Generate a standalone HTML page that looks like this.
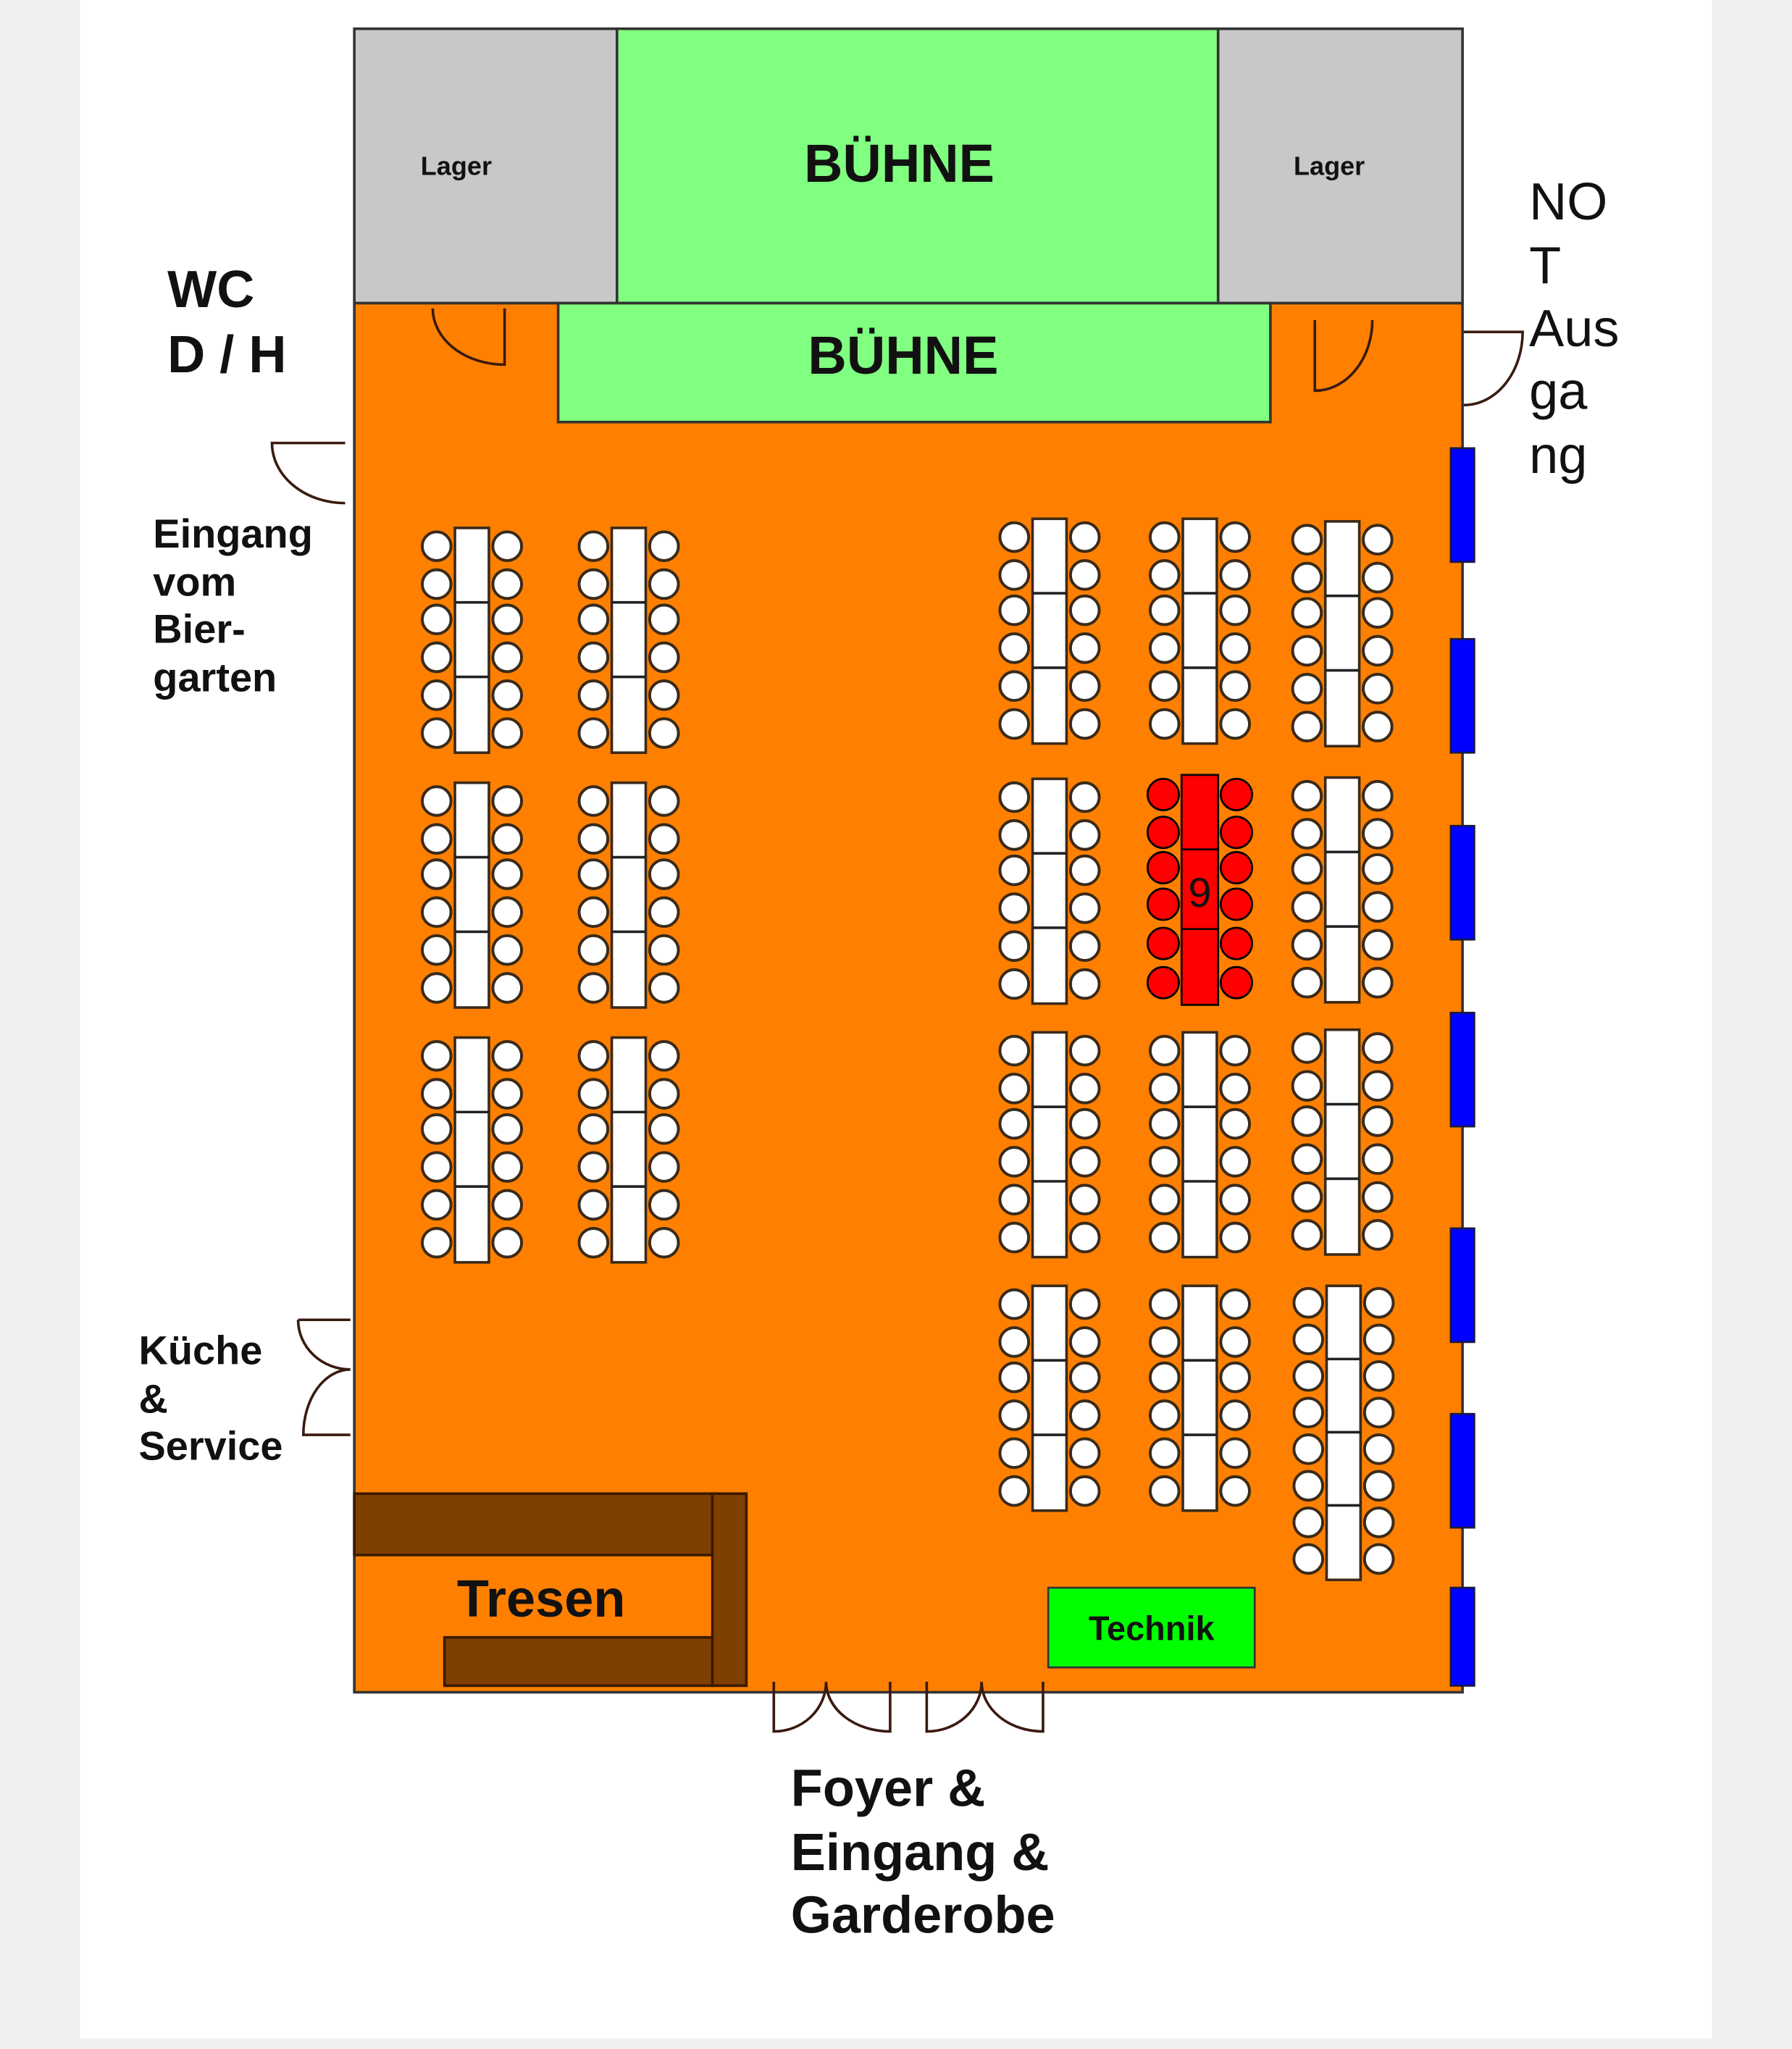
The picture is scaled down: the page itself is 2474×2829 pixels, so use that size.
<!DOCTYPE html>
<html><head><meta charset="utf-8"><style>
html,body{margin:0;padding:0;background:#f0f0f0}
svg{display:block}
text{font-family:"Liberation Sans",Arial,sans-serif;fill:#111}
.b{font-weight:bold}
</style></head><body>
<svg width="2474" height="2829" viewBox="0 0 1371 1568" xmlns="http://www.w3.org/2000/svg">
<defs>
<g id="t6">
<rect x="-13" y="0" width="26" height="172" fill="#fff" stroke="#3a2a1a" stroke-width="2"/>
<line x1="-13" y1="57" x2="13" y2="57" stroke="#222" stroke-width="2"/>
<line x1="-13" y1="114" x2="13" y2="114" stroke="#222" stroke-width="2"/>
<g fill="#fff" stroke="#3a2a1a" stroke-width="2.2">
<circle cx="-27" cy="14" r="11"/><circle cx="-27" cy="43" r="11"/><circle cx="-27" cy="70" r="11"/><circle cx="-27" cy="99" r="11"/><circle cx="-27" cy="128" r="11"/><circle cx="-27" cy="157" r="11"/>
<circle cx="27" cy="14" r="11"/><circle cx="27" cy="43" r="11"/><circle cx="27" cy="70" r="11"/><circle cx="27" cy="99" r="11"/><circle cx="27" cy="128" r="11"/><circle cx="27" cy="157" r="11"/>
</g></g>
<g id="t8">
<rect x="-13" y="0" width="26" height="225" fill="#fff" stroke="#3a2a1a" stroke-width="2"/>
<line x1="-13" y1="56" x2="13" y2="56" stroke="#222" stroke-width="2"/>
<line x1="-13" y1="112" x2="13" y2="112" stroke="#222" stroke-width="2"/>
<line x1="-13" y1="168" x2="13" y2="168" stroke="#222" stroke-width="2"/>
<g fill="#fff" stroke="#3a2a1a" stroke-width="2.2">
<circle cx="-27" cy="13" r="11"/><circle cx="-27" cy="41" r="11"/><circle cx="-27" cy="69" r="11"/><circle cx="-27" cy="97" r="11"/><circle cx="-27" cy="125" r="11"/><circle cx="-27" cy="153" r="11"/><circle cx="-27" cy="181" r="11"/><circle cx="-27" cy="209" r="11"/>
<circle cx="27" cy="13" r="11"/><circle cx="27" cy="41" r="11"/><circle cx="27" cy="69" r="11"/><circle cx="27" cy="97" r="11"/><circle cx="27" cy="125" r="11"/><circle cx="27" cy="153" r="11"/><circle cx="27" cy="181" r="11"/><circle cx="27" cy="209" r="11"/>
</g></g>
</defs>
<rect x="0" y="0" width="1371" height="1568" fill="#f0f0f0"/>
<rect x="61" y="0" width="1249" height="1560" fill="#fff"/>

<!-- rooms -->
<rect x="271" y="22" width="201" height="210" fill="#c8c8c8" stroke="#333" stroke-width="2"/>
<rect x="472" y="22" width="460" height="210" fill="#80ff80" stroke="#333" stroke-width="2"/>
<rect x="932" y="22" width="187" height="210" fill="#c8c8c8" stroke="#333" stroke-width="2"/>
<rect x="271" y="232" width="848" height="1063" fill="#ff8000" stroke="#333" stroke-width="2"/>
<rect x="427" y="232" width="545" height="91" fill="#80ff80" stroke="#333" stroke-width="2"/>

<text x="349" y="134" class="b" font-size="20" text-anchor="middle">Lager</text>
<text x="1017" y="134" class="b" font-size="20" text-anchor="middle">Lager</text>
<text x="688" y="139" class="b" font-size="41" text-anchor="middle">BÜHNE</text>
<text x="691" y="286" class="b" font-size="41" text-anchor="middle">BÜHNE</text>

<!-- windows -->
<g fill="#0000ff" stroke="#1a1a40" stroke-width="1.5">
<rect x="1110" y="343" width="18" height="87"/>
<rect x="1110" y="489" width="18" height="87"/>
<rect x="1110" y="632" width="18" height="87"/>
<rect x="1110" y="775" width="18" height="87"/>
<rect x="1110" y="940" width="18" height="87"/>
<rect x="1110" y="1082" width="18" height="87"/>
<rect x="1110" y="1215" width="18" height="75"/>
</g>

<!-- doors -->
<g fill="none" stroke="#3a1a10" stroke-width="2">
<path d="M331 236 A55 43 0 0 0 386 279 L386 236"/>
<path d="M1006 245 L1006 299 A44 54 0 0 0 1050 245"/>
<path d="M1120 254 L1165 254 A45 56 0 0 1 1120 310"/>
<path d="M264 339 L208 339 A56 46 0 0 0 264 385"/>
<path d="M228 1010 L268 1010 M228 1010 A40 38 0 0 0 268 1048 M268 1048 A36 50 0 0 0 232 1098 L268 1098"/>
<path d="M592 1287 L592 1325 A40 38 0 0 0 632 1287 M681 1287 L681 1325 A49 38 0 0 1 632 1287"/>
<path d="M709 1287 L709 1325 A42 38 0 0 0 751 1287 M798 1287 L798 1325 A47 38 0 0 1 751 1287"/>
</g>

<!-- tresen -->
<g fill="#7f3f00" stroke="#3a1a00" stroke-width="2">
<rect x="271" y="1143" width="274" height="47"/>
<rect x="545" y="1143" width="26" height="147"/>
<rect x="340" y="1253" width="205" height="37"/>
</g>
<text x="414" y="1237" class="b" font-size="40" text-anchor="middle">Tresen</text>

<rect x="802" y="1215" width="158" height="61" fill="#00ff00" stroke="#333" stroke-width="1.5"/>
<text x="881" y="1255" class="b" font-size="26" text-anchor="middle">Technik</text>

<!-- tables left -->
<use href="#t6" x="361" y="404"/><use href="#t6" x="481" y="404"/>
<use href="#t6" x="361" y="599"/><use href="#t6" x="481" y="599"/>
<use href="#t6" x="361" y="794"/><use href="#t6" x="481" y="794"/>
<!-- tables right -->
<use href="#t6" x="803" y="397"/><use href="#t6" x="918" y="397"/><use href="#t6" x="1027" y="399"/>
<use href="#t6" x="803" y="596"/><use href="#t6" x="1027" y="595"/>
<use href="#t6" x="803" y="790"/><use href="#t6" x="918" y="790"/><use href="#t6" x="1027" y="788"/>
<use href="#t6" x="803" y="984"/><use href="#t6" x="918" y="984"/><use href="#t8" x="1028" y="984"/>

<!-- red table -->
<g stroke="#000" stroke-width="1.5" fill="#ff0000">
<rect x="904" y="593" width="28" height="176"/>
<line x1="904" y1="650" x2="932" y2="650"/><line x1="904" y1="711" x2="932" y2="711"/>
<circle cx="890" cy="608" r="12"/><circle cx="890" cy="637" r="12"/><circle cx="890" cy="664" r="12"/><circle cx="890" cy="692" r="12"/><circle cx="890" cy="722" r="12"/><circle cx="890" cy="752" r="12"/>
<circle cx="946" cy="608" r="12"/><circle cx="946" cy="637" r="12"/><circle cx="946" cy="664" r="12"/><circle cx="946" cy="692" r="12"/><circle cx="946" cy="722" r="12"/><circle cx="946" cy="752" r="12"/>
</g>
<text x="918" y="694" font-size="32" text-anchor="middle">9</text>

<!-- labels -->
<text class="b" font-size="40"><tspan x="128" y="235">WC</tspan><tspan x="128" y="285">D / H</tspan></text>
<text class="b" font-size="31"><tspan x="117" y="419">Eingang</tspan><tspan x="117" y="456">vom</tspan><tspan x="117" y="492">Bier-</tspan><tspan x="117" y="529">garten</tspan></text>
<text class="b" font-size="31"><tspan x="106" y="1044">Küche</tspan><tspan x="106" y="1081">&amp;</tspan><tspan x="106" y="1117">Service</tspan></text>
<text font-size="40"><tspan x="1170" y="168">NO</tspan><tspan x="1170" y="217">T</tspan><tspan x="1170" y="265">Aus</tspan><tspan x="1170" y="313">ga</tspan><tspan x="1170" y="362">ng</tspan></text>
<text class="b" font-size="40"><tspan x="605" y="1382">Foyer &amp;</tspan><tspan x="605" y="1431">Eingang &amp;</tspan><tspan x="605" y="1479">Garderobe</tspan></text>
</svg>
</body></html>
